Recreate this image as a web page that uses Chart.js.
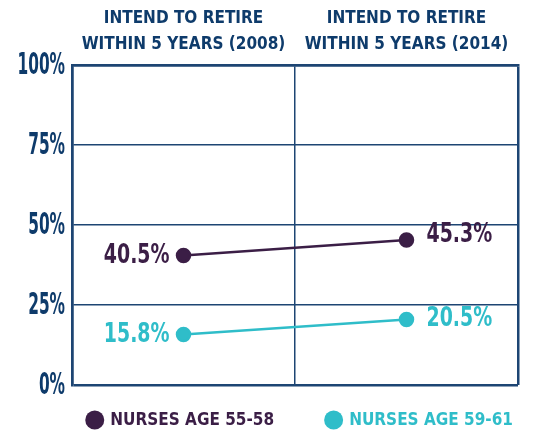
<!DOCTYPE html>
<html>
<head>
<meta charset="utf-8">
<script src="https://cdn.jsdelivr.net/npm/chart.js@4"></script>
<style>
  html, body { margin: 0; padding: 0; background: #fff; }
  #wrap { width: 537px; height: 430px; }
</style>
</head>
<body>
<div id="wrap"><canvas id="chart"></canvas></div>
<script>
const categories = [
  ["INTEND TO RETIRE", "WITHIN 5 YEARS (2008)"],
  ["INTEND TO RETIRE", "WITHIN 5 YEARS (2014)"]
];
const seriesNames = ["NURSES AGE 55-58", "NURSES AGE 59-61"];
const age5558 = [40.5, 45.3];
const age5961 = [15.8, 20.5];
const yTicks = [0, 25, 50, 75, 100];

const FONT = "'DejaVu Sans Condensed', 'Liberation Sans Narrow', sans-serif";
const navy = "#0e3b6b";
const gridColor = "#1d4573";
const purple = "#3b1e46";
const cyan = "#2fbdc9";

// y tick labels, drawn squeezed so they look like the condensed original
const yLabels = {
  id: "yLabels",
  afterDraw(chart) {
    const ctx = chart.ctx, y = chart.scales.y;
    ctx.save();
    ctx.font = "bold 30px " + FONT;
    ctx.fillStyle = navy;
    ctx.textAlign = "right";
    ctx.textBaseline = "middle";
    yTicks.forEach(v => {
      const py = y.getPixelForValue(v);
      ctx.save();
      ctx.translate(y.right - 7, py + 1);
      ctx.scale(0.57, 1);
      ctx.fillText(v + "%", 0, 0);
      ctx.restore();
    });
    ctx.restore();
  }
};

// value labels: left of first point, right of last point
const valueLabels = {
  id: "valueLabels",
  afterDatasetsDraw(chart) {
    const ctx = chart.ctx;
    ctx.save();
    ctx.font = "bold 27px " + FONT;
    ctx.textBaseline = "middle";
    chart.data.datasets.forEach((ds, i) => {
      const meta = chart.getDatasetMeta(i);
      meta.data.forEach((pt, j) => {
        ctx.fillStyle = ds.borderColor;
        const txt = ds.data[j].toFixed(1) + "%";
        ctx.save();
        if (j === 0) {
          ctx.textAlign = "right";
          ctx.translate(pt.x - 14, pt.y + 1);
        } else {
          ctx.textAlign = "left";
          ctx.translate(pt.x + 20, pt.y - (i === 0 ? 5 : 0));
        }
        ctx.scale(0.78, 1);
        ctx.fillText(txt, 0, 0);
        ctx.restore();
      });
    });
    ctx.restore();
  }
};

// legend row under the chart, text coloured like its series
const legendRow = {
  id: "legendRow",
  afterDraw(chart) {
    const ctx = chart.ctx, area = chart.chartArea;
    const ds = chart.data.datasets;
    const r = 9.5, gapText = 6, gapItem = 50;
    ctx.save();
    ctx.font = "bold 17px " + FONT;
    ctx.textBaseline = "middle";
    ctx.textAlign = "left";
    const widths = ds.map(d => 2 * r + gapText + ctx.measureText(d.label).width);
    const total = widths.reduce((a, b) => a + b, 0) + gapItem * (ds.length - 1);
    let x = area.right - 5 - total;
    const y = area.bottom + 35;
    ds.forEach((d, i) => {
      ctx.fillStyle = d.borderColor;
      ctx.beginPath();
      ctx.arc(x + r, y, r, 0, Math.PI * 2);
      ctx.fill();
      ctx.fillText(d.label, x + 2 * r + gapText, y + 1);
      x += widths[i] + gapItem;
    });
    ctx.restore();
  }
};

new Chart(document.getElementById("chart"), {
  type: "line",
  data: {
    labels: categories,
    datasets: [
      {
        label: seriesNames[0],
        data: age5558,
        borderColor: purple,
        backgroundColor: purple,
        borderWidth: 2.5,
        pointRadius: 6.5,
        pointHoverRadius: 6.5
      },
      {
        label: seriesNames[1],
        data: age5961,
        borderColor: cyan,
        backgroundColor: cyan,
        borderWidth: 2.5,
        pointRadius: 6.5,
        pointHoverRadius: 6.5
      }
    ]
  },
  options: {
    responsive: true,
    maintainAspectRatio: false,
    animation: false,
    layout: { padding: { top: 0, left: 0, right: 19, bottom: 45 } },
    scales: {
      x: {
        position: "top",
        offset: true,
        grid: {
          offset: true,
          color: gridColor,
          lineWidth: c => (c.index === 1 ? 1.5 : 2.5),
          drawTicks: false
        },
        border: { color: gridColor, width: 2.5 },
        ticks: {
          color: navy,
          font: { family: FONT, size: 17, weight: "bold", lineHeight: 1.5 },
          padding: 8,
          maxRotation: 0,
          autoSkip: false
        },
        afterFit: s => { s.height = 65; }
      },
      y: {
        min: 0,
        max: 100,
        afterBuildTicks: s => { s.ticks = yTicks.map(v => ({ value: v })); },
        grid: {
          color: gridColor,
          lineWidth: c => (c.tick && (c.tick.value === 0 || c.tick.value === 100) ? 2.5 : 1.5),
          drawTicks: false
        },
        border: { color: gridColor, width: 2.5 },
        ticks: { display: false },
        afterFit: s => { s.width = 72; }
      }
    },
    plugins: {
      tooltip: { enabled: false },
      legend: { display: false }
    }
  },
  plugins: [yLabels, valueLabels, legendRow]
});
</script>
</body>
</html>
